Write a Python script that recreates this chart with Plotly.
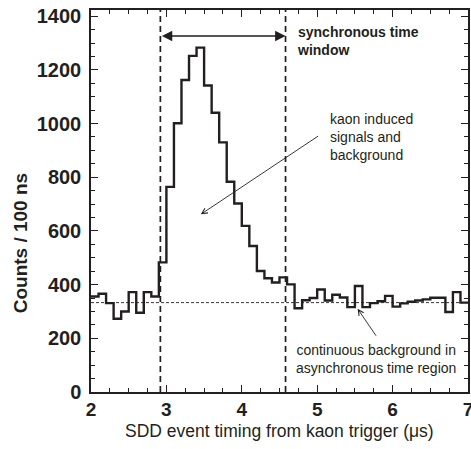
import plotly.graph_objects as go

# Histogram of SDD event timing, 100 ns bins from 2.0 to 7.0 us
bin_start = [round(2.0 + 0.1 * i, 1) for i in range(50)]
counts = [
    356, 366, 331, 273, 300, 372, 295, 372, 356, 483,
    764, 1001, 1162, 1252, 1283, 1142, 1040, 930, 783, 702,
    619, 544, 451, 424, 408, 427, 401, 312, 342, 350,
    382, 341, 362, 352, 316, 395, 316, 331, 338, 358,
    318, 330, 336, 341, 345, 351, 351, 298, 372, 333,
]
bin_width = 0.1

# Synchronous time window limits and flat background level
window_lo, window_hi = 2.92, 4.58
background_level = 333

x_range = [2, 7]
y_range = [0, 1423]
x_ticks = [2, 3, 4, 5, 6, 7]
y_ticks = [0, 200, 400, 600, 800, 1000, 1200, 1400]

ink = "#231f20"
font = "Liberation Sans, Arial, sans-serif"

step_x = bin_start + [bin_start[-1] + bin_width]
step_y = counts + [counts[-1]]

fig = go.Figure()
fig.add_trace(go.Scatter(
    x=step_x, y=step_y, mode="lines", line_shape="hv",
    line=dict(color=ink, width=2.4), showlegend=False, hoverinfo="skip",
))

shapes = []
for xv in (window_lo, window_hi):
    shapes.append(dict(type="line", xref="x", yref="y", x0=xv, x1=xv,
                       y0=y_range[0], y1=y_range[1],
                       line=dict(color=ink, width=1.7, dash="6px,4px")))
shapes.append(dict(type="line", xref="x", yref="y", x0=x_range[0], x1=x_range[1],
                   y0=background_level, y1=background_level,
                   line=dict(color=ink, width=0.9, dash="3px,2px")))

annotations = [
    # window span arrow
    dict(x=window_hi, y=1326, ax=window_lo, ay=1326, xref="x", yref="y",
         axref="x", ayref="y", text="", showarrow=True, arrowside="end+start",
         arrowhead=2, arrowsize=1.3, arrowwidth=1.6, arrowcolor=ink),
    dict(x=4.70, y=1308, xref="x", yref="y", xanchor="left", yanchor="middle",
         align="left", showarrow=False,
         text="<b>synchronous time<br>window</b>",
         font=dict(family=font, size=14, color=ink)),
    # kaon signal arrow and label
    dict(x=3.457, y=662, ax=5.032, ay=957, xref="x", yref="y",
         axref="x", ayref="y", text="", showarrow=True,
         arrowhead=5, arrowsize=1.2, arrowwidth=0.9, arrowcolor=ink),
    dict(x=5.14, y=949, xref="x", yref="y", xanchor="left", yanchor="middle",
         align="left", showarrow=False,
         text="kaon induced<br>signals and<br>background",
         font=dict(family=font, size=14, color=ink)),
    # background arrow and label
    dict(x=5.536, y=310, ax=5.794, ay=204, xref="x", yref="y",
         axref="x", ayref="y", text="", showarrow=True,
         arrowhead=5, arrowsize=1.2, arrowwidth=0.9, arrowcolor=ink),
    dict(x=5.786, y=123, xref="x", yref="y", xanchor="center", yanchor="middle",
         align="center", showarrow=False,
         text="continuous background in<br>asynchronous time region",
         font=dict(family=font, size=14, color=ink)),
    # axis titles
    dict(x=0.5, y=-0.103, xref="paper", yref="paper", xanchor="center",
         yanchor="middle", showarrow=False,
         text="SDD event timing from kaon trigger (μs)",
         font=dict(family=font, size=17.5, color=ink)),
    dict(x=-0.186, y=0.389, xref="paper", yref="paper", xanchor="center",
         yanchor="middle", showarrow=False, textangle=-90,
         text="<b>Counts / 100 ns</b>",
         font=dict(family=font, size=19, color=ink)),
]

axis_common = dict(
    showline=True, linecolor=ink, linewidth=1.5, mirror="ticks",
    ticks="inside", ticklen=7, tickwidth=1.3, tickcolor=ink,
    showgrid=False, zeroline=False, fixedrange=True, automargin=False,
)

fig.update_layout(
    width=471, height=449,
    margin=dict(l=91, r=3, t=10, b=57),
    paper_bgcolor="white", plot_bgcolor="white",
    shapes=shapes, annotations=annotations,
    xaxis=dict(range=x_range, tickvals=x_ticks,
               ticktext=[str(v) for v in x_ticks],
               ticklabeloverflow="allow", ticklabelstandoff=-1,
               tickfont=dict(family=font, size=19, color=ink, weight="bold"),
               minor=dict(dtick=0.25, ticks="inside", ticklen=4,
                          tickwidth=1.1, tickcolor=ink),
               **axis_common),
    yaxis=dict(range=y_range, tickvals=y_ticks,
               ticktext=[str(v) for v in y_ticks],
               ticklabelstandoff=4,
               tickfont=dict(family=font, size=20, color=ink, weight="bold"),
               minor=dict(dtick=50, ticks="inside", ticklen=4,
                          tickwidth=1.1, tickcolor=ink),
               **axis_common),
)

fig.write_html("out.html")
